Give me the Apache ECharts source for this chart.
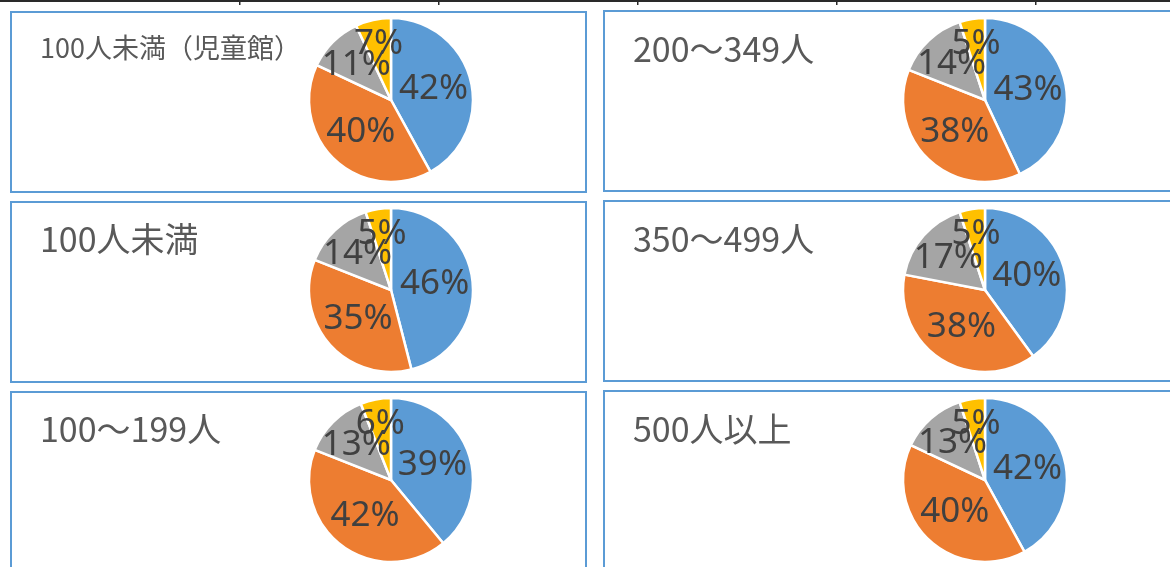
<!DOCTYPE html>
<html><head><meta charset="utf-8">
<script src="https://cdn.jsdelivr.net/npm/echarts@6/dist/echarts.min.js"></script>
<style>html,body{margin:0;padding:0;background:#fff}#c{width:1170px;height:567px}</style>
</head><body><div id="c"></div>
<script>
const titles = ['100人未満（児童館）','100人未満','100～199人','200～349人','350～499人','500人以上'];
const categories = ['A','B','C','D'];
const p1 = [42, 40, 11, 7];
const p2 = [46, 35, 14, 5];
const p3 = [39, 42, 13, 6];
const p4 = [43, 38, 14, 5];
const p5 = [40, 38, 17, 5];
const p6 = [42, 40, 13, 5];
const allData = [p1,p2,p3,p4,p5,p6];
const colors = ['#5B9BD5','#ED7D31','#A5A5A5','#FFC000'];

const colX = [11, 604];
const rowY = [12, 202, 392];
const centers = [[391,100],[391,290],[391,480],[985,100],[985,290],[985,480]];
const labelFont = "'Noto Sans',sans-serif";
const titleFont = "'Noto Sans CJK JP','Noto Sans',sans-serif";

const graphics = [];
graphics.push({type:'rect', shape:{x:0,y:0,width:1170,height:2}, style:{fill:'#2a2a2a'}});
[239,438,637,836,1035].forEach(x=>graphics.push({type:'rect', shape:{x:x,y:0,width:1.5,height:5}, style:{fill:'#2a2a2a'}}));
for (let c=0;c<2;c++) for (let r=0;r<3;r++) {
  graphics.push({type:'rect', z:0, shape:{x:colX[c], y:rowY[r]-(c?1:0), width:(c?600:575), height:180},
    style:{fill:'none', stroke:'#5B9BD5', lineWidth:2}});
}

const titleOpts = titles.map((t,i)=>{
  const c = i<3?0:1, r = i%3;
  const small = i===0;
  return {text:t, left: c? 633 : 40, top: rowY[r] + (small?22:20), padding:0,
    textStyle:{fontFamily:titleFont, fontWeight:'normal', fontSize: small?27:34, color:'#595959'}};
});

// label rings: which slice indices show their label in each ring
const ringDefs = [
  {radius:[0,82], show:[0,1]},
  {radius:[20,72], show:[2]},
  {radius:[36,72], show:[3]}
];

const series = [];
allData.forEach((d,i)=>{
  series.push({
    type:'pie', center:centers[i], radius:82, startAngle:90, clockwise:true,
    animation:false, silent:true, z:2,
    itemStyle:{borderColor:'#fff', borderWidth:2.5},
    label:{show:false}, labelLine:{show:false},
    data: d.map((v,k)=>({name:categories[k], value:v, itemStyle:{color:colors[k]}}))
  });
  ringDefs.forEach(rd=>{
    series.push({
      type:'pie', center:centers[i], radius:rd.radius, startAngle:90, clockwise:true,
      animation:false, silent:true, z:3, avoidLabelOverlap:false,
      itemStyle:{color:'rgba(0,0,0,0)', borderWidth:0},
      labelLayout:{hideOverlap:false},
      label:{show:false}, labelLine:{show:false},
      data: d.map((v,k)=>({name:categories[k], value:v,
        label:{show: rd.show.indexOf(k)>=0, position:'inside', formatter: p=>p.value+'%',
          fontFamily:labelFont, fontSize:35, color:'#404040'}}))
    });
  });
});

const chart = echarts.init(document.getElementById('c'), null, {renderer:'canvas'});
chart.setOption({animation:false, title:titleOpts, graphic:graphics, series:series});
</script></body></html>
